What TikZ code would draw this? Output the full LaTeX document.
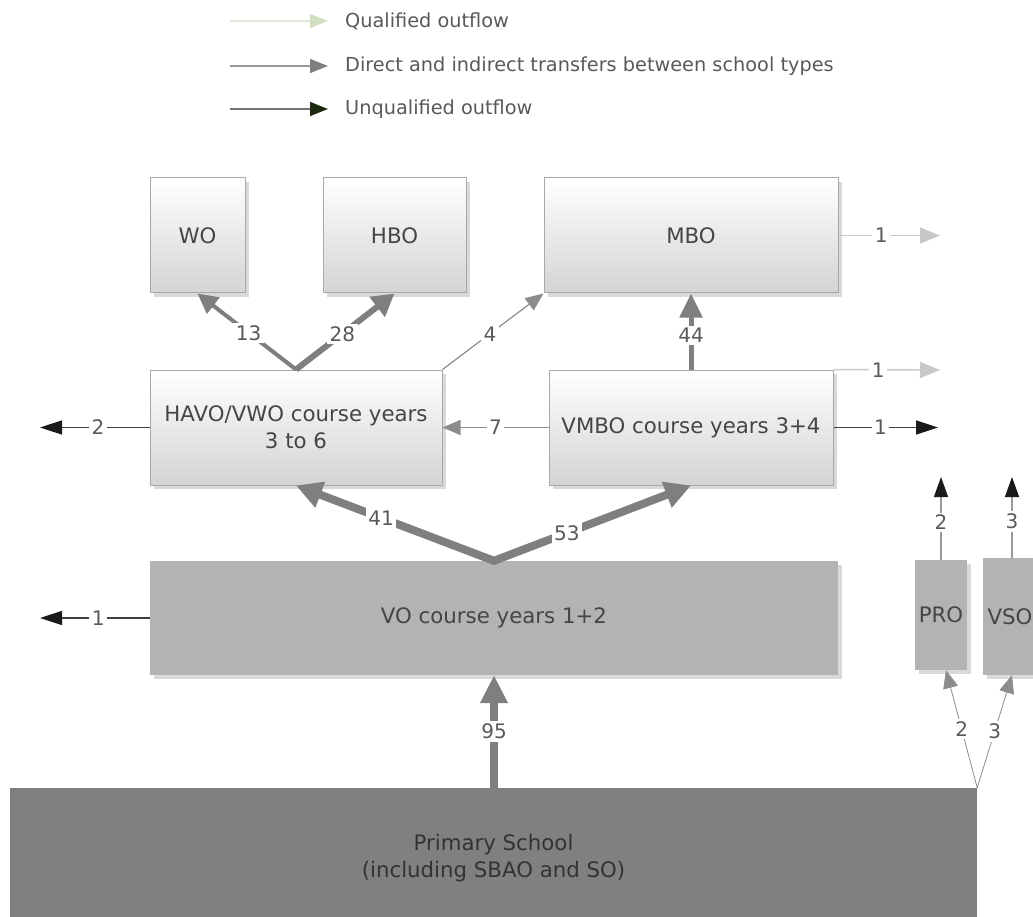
\documentclass[tikz,border=0pt]{standalone}
\usepackage{fontspec}
\setmainfont{DejaVu Sans}
\usetikzlibrary{arrows.meta,shadows,calc}
\definecolor{boxline}{HTML}{A8A8A8}
\definecolor{boxtext}{HTML}{454545}
\definecolor{flowgrey}{HTML}{7F7F7F}
\definecolor{qualgrey}{HTML}{C8C8C8}
\definecolor{unqual}{HTML}{1A1A1A}
\definecolor{leggreen}{HTML}{D2DEC2}
\definecolor{leggreenline}{HTML}{E0E8D8}
\definecolor{legdark}{HTML}{1E2A10}
\definecolor{voFill}{HTML}{B3B3B3}
\definecolor{primFill}{HTML}{808080}
\begin{document}
\begin{tikzpicture}[x=1pt,y=-1pt,
  boxfont/.style={font=\fontsize{21.3}{27}\selectfont},
  shade box/.style={draw=boxline, line width=1pt, top color=white, bottom color=black!17,
    drop shadow={shadow xshift=4pt, shadow yshift=-4pt, opacity=0.3},
    inner sep=0pt, text=boxtext, boxfont, align=center},
  flat box/.style={draw=none, fill=voFill,
    drop shadow={shadow xshift=4pt, shadow yshift=-4pt, opacity=0.3},
    inner sep=0pt, text=boxtext, boxfont, align=center},
  prim box/.style={draw=none, fill=primFill, inner sep=0pt, text=black!80, boxfont, align=center},
  lbl/.style={fill=white, inner sep=2.5pt, text=black!65, font=\fontsize{20}{22}\selectfont},
  legtext/.style={anchor=west, inner sep=0pt, text=black!65, font=\fontsize{19.3}{22}\selectfont},
  fat/.style={draw=flowgrey, line width=8pt, line join=miter},
  thinflow/.style={draw=flowgrey!90, line width=1.2pt, -{Triangle[length=18pt,width=15pt]}},
  qualflow/.style={draw=qualgrey, line width=1.5pt, -{Triangle[length=20pt,width=16pt]}},
  unqualflow/.style={draw=black!75, line width=1.5pt, -{Triangle[length=22pt,width=14pt, fill=unqual, color=unqual]}},
  upflow/.style={draw=black!40, line width=1.5pt, -{Triangle[length=20pt,width=14pt, fill=unqual, color=unqual]}}
]
\useasboundingbox (0,0) rectangle (1033,917);

% ---------- legend ----------
\coordinate (l1a) at (230,21);  \coordinate (l1b) at (328,21);
\coordinate (l2a) at (230,66);  \coordinate (l2b) at (328,66);
\coordinate (l3a) at (230,109); \coordinate (l3b) at (328,109);
\draw[draw=leggreenline, line width=1.5pt, -{Triangle[length=18pt,width=14pt, fill=leggreen, color=leggreen]}] (l1a) -- (l1b);
\draw[draw=black!40, line width=1.5pt, -{Triangle[length=18pt,width=14pt, fill=flowgrey, color=flowgrey]}] (l2a) -- (l2b);
\draw[draw=black!55, line width=1.5pt, -{Triangle[length=18pt,width=14pt, fill=legdark, color=legdark]}] (l3a) -- (l3b);
\node[legtext] (t1) at (345,21) {Qualified outflow};
\node[legtext] (t2) at (345,66) {Direct and indirect transfers between school types};
\node[legtext] (t3) at (345,109) {Unqualified outflow};

% ---------- boxes ----------
\node[shade box, minimum width=95pt, minimum height=115pt] (wo) at (197.5,235.5) {WO};
\node[shade box, minimum width=143pt, minimum height=115pt] (hbo) at (394.5,235.5) {HBO};
\node[shade box, minimum width=294pt, minimum height=115pt] (mbo) at (691,235.5) {MBO};
\node[shade box, minimum width=292pt, minimum height=115pt] (havo) at (296,427.5) {HAVO/VWO course years\\3 to 6};
\node[shade box, minimum width=284pt, minimum height=115pt] (vmbo) at (691,427.5) {VMBO course years 3+4};
\node[flat box, minimum width=688pt, minimum height=114pt] (vo) at (494,618) {VO course years 1+2};
\node[flat box, minimum width=52pt, minimum height=110pt] (pro) at (941,615) {PRO};
\node[flat box, minimum width=54pt, minimum height=117pt] (vso) at (1010,616.5) {VSO};
\node[prim box, minimum width=967pt, minimum height=140pt] (prim) at (493.5,858) {Primary School\\(including SBAO and SO)};

% ---------- main flows ----------
\draw[fat, -{Triangle[length=28pt,width=26pt]}] (prim.north -| vo.south) -- node[lbl, pos=0.5] {95} (vo.south);
\draw[fat, {Triangle[length=26pt,width=26pt]}-{Triangle[length=26pt,width=26pt]}]
  (havo.south) -- node[lbl, pos=0.43] {41} (vo.north) -- node[lbl, pos=0.37] {53} (vmbo.south);
\draw[draw=flowgrey, line width=4pt, -{Triangle[length=20pt,width=20pt]}]
  (havo.north) -- node[lbl, pos=0.48] {13} (wo.south);
\draw[draw=flowgrey, line width=6pt, -{Triangle[length=22pt,width=24pt]}]
  (havo.north) -- node[lbl, pos=0.47] {28} (hbo.south);
\draw[draw=flowgrey, line width=5pt, -{Triangle[length=24pt,width=22pt]}] (vmbo.north) -- node[lbl, pos=0.45] {44} (mbo.south);
\draw[thinflow] (havo.north east) -- node[lbl, pos=0.47] {4} (mbo.south west);
\draw[thinflow] (vmbo.west) -- node[lbl, pos=0.5] {7} (havo.east);

% ---------- outflows ----------
\coordinate (oh) at (40,427.5);
\coordinate (ov) at (40,618);
\coordinate (om) at (940,235.5);
\coordinate (ovq) at (940,370);
\coordinate (ovu) at (938,427.5);
\coordinate (op) at (941,477);
\coordinate (os) at (1012,477);
\draw[unqualflow] (havo.west) -- node[lbl, pos=0.47] {2} (oh);
\draw[unqualflow] (vo.west) -- node[lbl, pos=0.47] {1} (ov);
\draw[qualflow] (mbo.east) -- node[lbl, pos=0.42] {1} (om);
\draw[qualflow] (vmbo.north east) -- node[lbl, pos=0.42] {1} (ovq);
\draw[unqualflow] (vmbo.east) -- node[lbl, pos=0.45] {1} (ovu);
\draw[upflow] (pro.north) -- node[lbl, pos=0.45] {2} (op);
\draw[upflow] (vso.north -| os) -- node[lbl, pos=0.45] {3} (os);

% ---------- special schools ----------
\draw[thinflow, line width=0.8pt] (prim.north east) -- node[lbl, pos=0.5] {2} ($(pro.south)+(5,0)$);
\draw[thinflow, line width=0.8pt] (prim.north east) -- node[lbl, pos=0.5] {3} (vso.south -| os);
\end{tikzpicture}
\end{document}
